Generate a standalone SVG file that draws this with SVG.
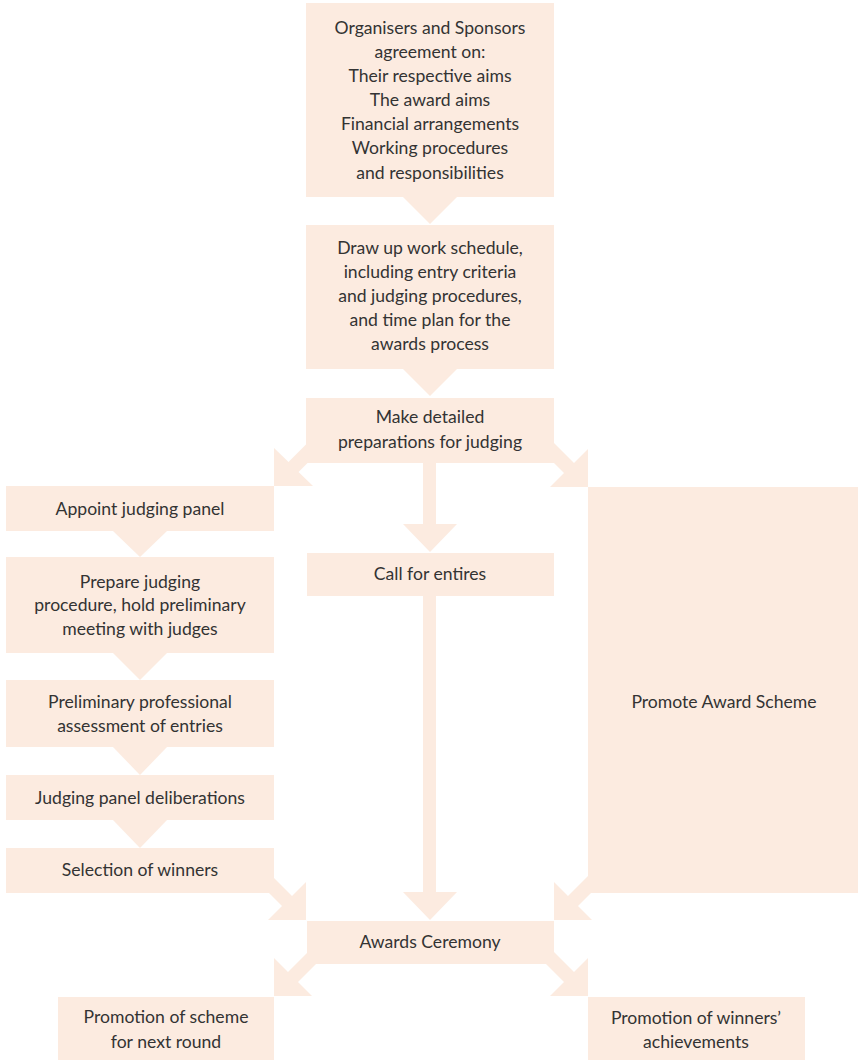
<svg xmlns="http://www.w3.org/2000/svg" width="858" height="1060" viewBox="0 0 858 1060">
<style>
.box{fill:#fcebe0}
.arr{fill:#fcebe0}
text{font-family:Lato,"Open Sans","Liberation Sans",sans-serif;font-size:17.6px;fill:#333;text-anchor:middle}
</style>
<rect width="858" height="1060" fill="#fff"/>
<g id="connectors">
<polygon class="arr" points="403,197 457,197 430,224"/>
<polygon class="arr" points="403,369 457,369 430,396"/>
<polygon class="arr" points="423,463 436,463 436,524 457,524 430,552 403,524 423,524"/>
<polygon class="arr" points="423,596 436,596 436,892 457,892 430,920 403,892 423,892"/>
<polygon class="arr" points="274,486 274,448 288.5,462 308.5,442 318.5,452 298.5,472 313,486"/>
<polygon class="arr" points="588,487 588,449 574,463 549,438 539,448 564,473 550,487"/>
<polygon class="arr" points="113,531 167,531 140,557"/>
<polygon class="arr" points="113,653 167,653 140,680"/>
<polygon class="arr" points="113,747 167,747 140,775"/>
<polygon class="arr" points="113,820 167,820 140,848"/>
<polygon class="arr" points="306,920 306,882 292,896 267,871 257,881 282,906 268,920"/>
<polygon class="arr" points="554,920 554,882 568,896 593,871 603,881 578,906 592,920"/>
<polygon class="arr" points="274,996 274,958 288,972 313,947 323,957 298,982 312,996"/>
<polygon class="arr" points="588,996 588,958 574,972 549,947 539,957 564,982 550,996"/>
</g>
<g id="n1"><rect class="box" x="306" y="3" width="248" height="194"/>
<text x="430" y="34">Organisers and Sponsors</text>
<text x="430" y="58">agreement on:</text>
<text x="430" y="82">Their respective aims</text>
<text x="430" y="106">The award aims</text>
<text x="430" y="130">Financial arrangements</text>
<text x="430" y="154">Working procedures</text>
<text x="430" y="179">and responsibilities</text></g>
<g id="n2"><rect class="box" x="306" y="225" width="248" height="144"/>
<text x="430" y="254">Draw up work schedule,</text>
<text x="430" y="278">including entry criteria</text>
<text x="430" y="302">and judging procedures,</text>
<text x="430" y="326">and time plan for the</text>
<text x="430" y="350">awards process</text></g>
<g id="n3"><rect class="box" x="306" y="398" width="248" height="65"/>
<text x="430" y="423">Make detailed</text>
<text x="430" y="448">preparations for judging</text></g>
<g id="n4"><rect class="box" x="6" y="486" width="268" height="45"/>
<text x="140" y="515">Appoint judging panel</text></g>
<g id="n5"><rect class="box" x="6" y="557" width="268" height="96"/>
<text x="140" y="588">Prepare judging</text>
<text x="140" y="611">procedure, hold preliminary</text>
<text x="140" y="635">meeting with judges</text></g>
<g id="n6"><rect class="box" x="6" y="680" width="268" height="67"/>
<text x="140" y="708">Preliminary professional</text>
<text x="140" y="732">assessment of entries</text></g>
<g id="n7"><rect class="box" x="6" y="775" width="268" height="45"/>
<text x="140" y="804">Judging panel deliberations</text></g>
<g id="n8"><rect class="box" x="6" y="848" width="268" height="45"/>
<text x="140" y="876">Selection of winners</text></g>
<g id="n9"><rect class="box" x="307" y="553" width="247" height="43"/>
<text x="430" y="580">Call for entires</text></g>
<g id="n10"><rect class="box" x="588" y="487" width="270" height="406"/>
<text x="724" y="708">Promote Award Scheme</text></g>
<g id="n11"><rect class="box" x="307" y="921" width="247" height="43"/>
<text x="430" y="948">Awards Ceremony</text></g>
<g id="n12"><rect class="box" x="58" y="997" width="216" height="63"/>
<text x="166" y="1023">Promotion of scheme</text>
<text x="166" y="1048">for next round</text></g>
<g id="n13"><rect class="box" x="588" y="997" width="217" height="63"/>
<text x="696" y="1024">Promotion of winners’</text>
<text x="696" y="1048">achievements</text></g>
</svg>
